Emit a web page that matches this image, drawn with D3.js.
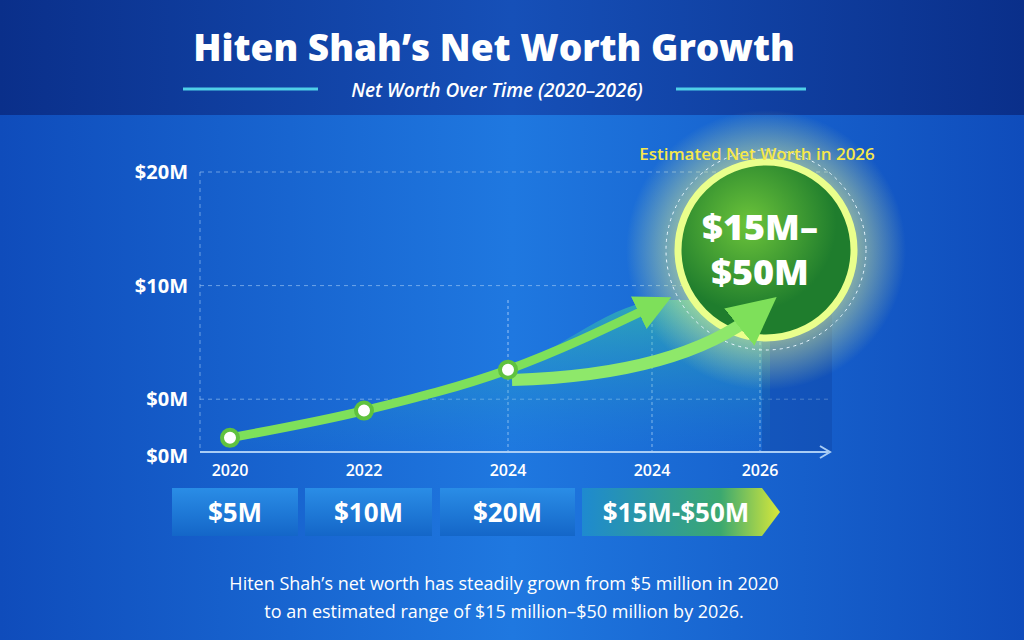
<!DOCTYPE html>
<html><head><meta charset="utf-8">
<script src="https://cdn.jsdelivr.net/npm/d3@7"></script>
<style>body{margin:0;background:#0b3fa8}svg{display:block}</style>
</head><body>
<script>
const years = ["2020", "2022", "2024", "2024b", "2026"];
const yearLabels = ["2020", "2022", "2024", "2024", "2026"];
const tickValues = [-5, 0, 10, 20];
const tickLabels = ["$0M", "$0M", "$10M", "$20M"];
const pointYears = ["2020", "2022", "2024"];
const pointLevels = [-3.4, -1, 2.6];
const boxLabels = ["$5M", "$10M", "$20M", "$15M-$50M"];
const estimate = "$15M–$50M";

const W = 1024, H = 640;
const svg = d3.select("body").append("svg").attr("width", W).attr("height", H)
  .style("font-family", "'Open Sans', sans-serif");
const defs = svg.append("defs");

let g = defs.append("linearGradient").attr("id", "bg").attr("x1", 0).attr("x2", 1);
g.append("stop").attr("offset", "0").attr("stop-color", "#0f4cbb");
g.append("stop").attr("offset", "0.5").attr("stop-color", "#1f78e0");
g.append("stop").attr("offset", "1").attr("stop-color", "#0f4cbb");
svg.append("rect").attr("width", W).attr("height", H).attr("fill", "url(#bg)");
let tg = defs.append("linearGradient").attr("id", "top").attr("x1", 0).attr("x2", 1);
tg.append("stop").attr("offset", "0").attr("stop-color", "#0a2f8a");
tg.append("stop").attr("offset", "0.5").attr("stop-color", "#1650b8");
tg.append("stop").attr("offset", "1").attr("stop-color", "#0a2f8a");
svg.append("rect").attr("width", W).attr("height", 115).attr("fill", "url(#top)");

svg.append("text").attr("x", 494).attr("y", 61).attr("text-anchor", "middle")
  .attr("fill", "#fff").attr("font-size", 37).attr("font-weight", 800).text("Hiten Shah’s Net Worth Growth");
svg.append("text").attr("x", 497).attr("y", 97).attr("text-anchor", "middle")
  .attr("fill", "#fff").attr("font-size", 19).attr("font-style", "italic").attr("font-weight", 600)
  .text("Net Worth Over Time (2020–2026)");
[[183, 318], [676, 806]].forEach(([a, b]) =>
  svg.append("line").attr("x1", a).attr("x2", b).attr("y1", 89).attr("y2", 89)
    .attr("stroke", "#4fd0e8").attr("stroke-width", 3));

const x = d3.scalePoint().domain(years).range([228, 760]);
x.range([228, 760]);
const xPos = {"2020": 230, "2022": 364, "2024": 508, "2024b": 652, "2026": 760};
const y = d3.scaleLinear().domain([-5, 20]).range([456, 172]);

// grid
svg.append("g").selectAll("line").data(tickValues.slice(1)).join("line")
  .attr("x1", 200).attr("x2", 830).attr("y1", d => y(d)).attr("y2", d => y(d))
  .attr("stroke", "#a9cdf5").attr("stroke-opacity", 0.6).attr("stroke-dasharray", "4 4");
svg.append("line").attr("x1", 200).attr("x2", 200).attr("y1", 172).attr("y2", 452)
  .attr("stroke", "#a9cdf5").attr("stroke-opacity", 0.6).attr("stroke-dasharray", "4 4");
svg.append("g").selectAll("line").data(years.slice(2)).join("line")
  .attr("x1", d => xPos[d]).attr("x2", d => xPos[d]).attr("y1", 300).attr("y2", 452)
  .attr("stroke", "#cfe4ff").attr("stroke-opacity", 0.7).attr("stroke-dasharray", "3 3");

// area glow under line
let ag = defs.append("linearGradient").attr("id", "area").attr("x1", 0).attr("x2", 0).attr("y1", 0).attr("y2", 1);
ag.append("stop").attr("offset", "0").attr("stop-color", "#3dd6a0").attr("stop-opacity", 0.55);
ag.append("stop").attr("offset", "1").attr("stop-color", "#1a7fd8").attr("stop-opacity", 0.1);
const pts = pointYears.map((d, i) => [xPos[d], y(pointLevels[i])]);
const areaPts = pts.concat([[665, 300], [770, 300]]);
svg.append("path").attr("fill", "url(#area)")
  .attr("d", d3.area().x(d => d[0]).y0(452).y1(d => d[1]).curve(d3.curveMonotoneX)(areaPts));
svg.append("rect").attr("x", 762).attr("y", 250).attr("width", 70).attr("height", 202)
  .attr("fill", "#0d3f9a").attr("opacity", 0.35);

// axis
svg.append("line").attr("x1", 200).attr("x2", 828).attr("y1", 452).attr("y2", 452)
  .attr("stroke", "#a9cdf5").attr("stroke-width", 2);
svg.append("path").attr("d", "M820,446 L830,452 L820,458").attr("fill", "none").attr("stroke", "#a9cdf5").attr("stroke-width", 2);

svg.append("g").selectAll("text").data(tickValues).join("text")
  .attr("x", 188).attr("y", d => y(d) + 7).attr("text-anchor", "end")
  .attr("fill", "#fff").attr("font-size", 20).attr("font-weight", 700)
  .text((d, i) => tickLabels[i]);
svg.append("g").selectAll("text").data(years).join("text")
  .attr("x", d => xPos[d]).attr("y", 476).attr("text-anchor", "middle")
  .attr("fill", "#fff").attr("font-size", 16).attr("font-weight", 600)
  .text((d, i) => yearLabels[i]);

// glow circle
let rg = defs.append("radialGradient").attr("id", "glow");
rg.append("stop").attr("offset", "0.5").attr("stop-color", "#f4ff8a").attr("stop-opacity", 0.7);
rg.append("stop").attr("offset", "1").attr("stop-color", "#f4ff8a").attr("stop-opacity", 0);
svg.append("circle").attr("cx", 766).attr("cy", 250).attr("r", 140).attr("fill", "url(#glow)");
svg.append("circle").attr("cx", 766).attr("cy", 250).attr("r", 100).attr("fill", "none")
  .attr("stroke", "#e8f7ff").attr("stroke-dasharray", "3 4");
let cg = defs.append("radialGradient").attr("id", "disc").attr("cx", 0.4).attr("cy", 0.35);
cg.append("stop").attr("offset", "0").attr("stop-color", "#6cc43a");
cg.append("stop").attr("offset", "1").attr("stop-color", "#1f7d2d");
svg.append("circle").attr("cx", 766).attr("cy", 250).attr("r", 88).attr("fill", "url(#disc)")
  .attr("stroke", "#eaff8c").attr("stroke-width", 7);
const parts = estimate.split("–");
svg.append("text").attr("x", 760).attr("y", 240).attr("text-anchor", "middle").attr("fill", "#fff")
  .attr("font-size", 36).attr("font-weight", 800).text(parts[0] + "–");
svg.append("text").attr("x", 760).attr("y", 285).attr("text-anchor", "middle").attr("fill", "#fff")
  .attr("font-size", 36).attr("font-weight", 800).text("$" + parts[1].slice(1));
svg.append("text").attr("x", 757).attr("y", 160).attr("text-anchor", "middle").attr("fill", "#f6e84a")
  .attr("font-size", 17).attr("font-weight", 600).text("Estimated Net Worth in 2026");

// lines/arrows
defs.append("marker").attr("id", "ah").attr("viewBox", "0 0 10 10").attr("refX", 5).attr("refY", 5)
  .attr("markerWidth", 4).attr("markerHeight", 4).attr("orient", "auto")
  .append("path").attr("d", "M0,0 L10,5 L0,10 z").attr("fill", "#7ee05a");
const line = d3.line().curve(d3.curveMonotoneX);
svg.append("path").attr("d", line(pts.concat([[655, 305]]))).attr("fill", "none")
  .attr("stroke", "#7ee05a").attr("stroke-width", 9).attr("stroke-linecap", "round").attr("marker-end", "url(#ah)");
svg.append("path").attr("d", "M512,380 Q680,375 758,312").attr("fill", "none")
  .attr("stroke", "#8ee86a").attr("stroke-width", 12).attr("marker-end", "url(#ah)");
svg.append("g").selectAll("circle").data(pts).join("circle")
  .attr("cx", d => d[0]).attr("cy", d => d[1]).attr("r", 8)
  .attr("fill", "#fff").attr("stroke", "#5fc23e").attr("stroke-width", 4);

// bottom boxes
const boxes = [[172, 126], [305, 127], [440, 135], [582, 180]];
let bg2 = defs.append("linearGradient").attr("id", "box").attr("x1", 0).attr("x2", 0).attr("y1", 0).attr("y2", 1);
bg2.append("stop").attr("offset", "0").attr("stop-color", "#2a8de6");
bg2.append("stop").attr("offset", "1").attr("stop-color", "#1466c8");
let lg = defs.append("linearGradient").attr("id", "last").attr("x1", 0).attr("x2", 1);
lg.append("stop").attr("offset", "0").attr("stop-color", "#1e8ad0");
lg.append("stop").attr("offset", "0.7").attr("stop-color", "#3ba870");
lg.append("stop").attr("offset", "1").attr("stop-color", "#d8e83a");
const bx = svg.append("g").selectAll("g").data(boxLabels).join("g");
bx.append("path").attr("d", (d, i) => {
  const [a, w] = boxes[i];
  return i === 3 ? `M${a},488 H${a + w} L${a + w + 18},512 L${a + w},536 H${a} Z`
    : `M${a},488 H${a + w} V536 H${a} Z`;
}).attr("fill", (d, i) => i === 3 ? "url(#last)" : "url(#box)");
bx.append("text").attr("x", (d, i) => boxes[i][0] + boxes[i][1] / 2 + (i === 3 ? 4 : 0)).attr("y", 522)
  .attr("text-anchor", "middle").attr("fill", "#fff").attr("font-size", 26).attr("font-weight", 700).text(d => d);

svg.append("text").attr("x", 504).attr("y", 590).attr("text-anchor", "middle").attr("fill", "#fff")
  .attr("font-size", 18).text("Hiten Shah’s net worth has steadily grown from $5 million in 2020");
svg.append("text").attr("x", 504).attr("y", 618).attr("text-anchor", "middle").attr("fill", "#fff")
  .attr("font-size", 18).text("to an estimated range of $15 million–$50 million by 2026.");
</script>
</body></html>
